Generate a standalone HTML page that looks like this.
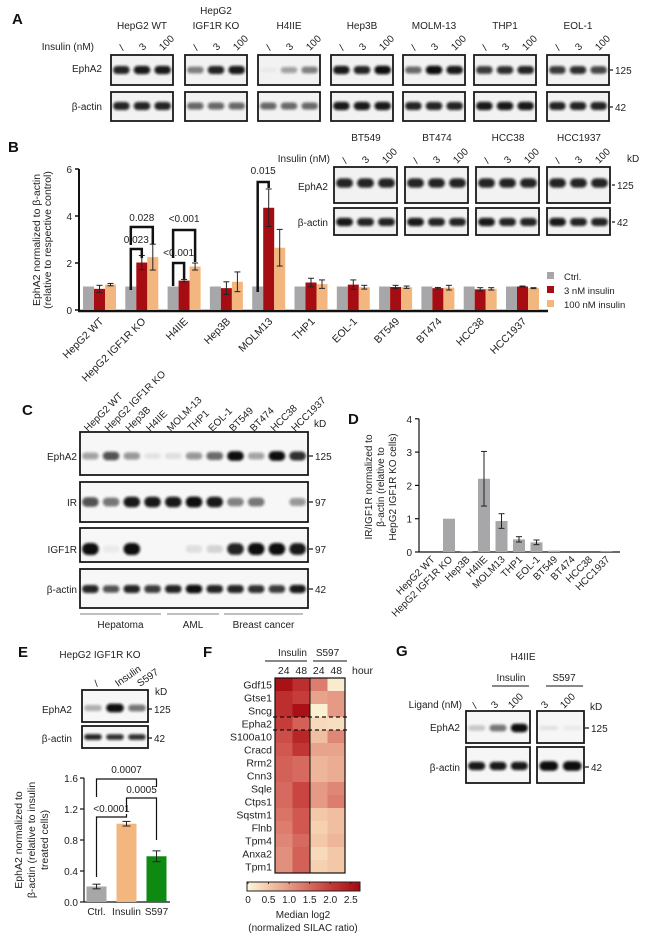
<!DOCTYPE html>
<html><head><meta charset="utf-8"><style>
html,body{margin:0;padding:0;background:#fff;}
svg{display:block;font-family:"Liberation Sans",Arial,sans-serif;}
</style></head><body>
<svg id="fig" width="650" height="945" viewBox="0 0 650 945" xmlns="http://www.w3.org/2000/svg">
<defs><filter id="blur" x="-20%" y="-100%" width="140%" height="300%"><feGaussianBlur stdDeviation="1.2"/></filter></defs>
</svg>
<script>
// ---------- Panel B data ----------
const bCats=["HepG2 WT","HepG2 IGF1R KO","H4IIE","Hep3B","MOLM13","THP1","EOL-1","BT549","BT474","HCC38","HCC1937"];
const bCtrl=[1,1,1,1,1,1,1,1,1,1,1];
const b3=[0.9,2.02,1.25,0.93,4.35,1.17,1.08,0.98,0.93,0.88,1.0];
const b3Err=[0.15,0.3,0.05,0.27,0.8,0.18,0.2,0.07,0.03,0.07,0.02];
const b100=[1.08,2.25,1.85,1.2,2.65,1.1,0.97,0.97,0.95,0.9,0.93];
const b100Err=[0.05,0.55,0.15,0.42,0.78,0.18,0.08,0.05,0.1,0.05,0.02];
const bTicks=[0,2,4,6];
// ---------- Panel D data ----------
const dCats=["HepG2 WT","HepG2 IGF1R KO","Hep3B","H4IIE","MOLM13","THP1","EOL-1","BT549","BT474","HCC38","HCC1937"];
const dVals=[0,1,0.03,2.2,0.93,0.38,0.29,0.04,0,0,0.01];
const dErr=[0,0,0.01,0.82,0.22,0.08,0.07,0.01,0,0,0];
const dTicks=[0,1,2,3,4];
// ---------- Panel E data ----------
const eCats=["Ctrl.","Insulin","S597"];
const eVals=[0.2,1.01,0.59];
const eErr=[0.03,0.03,0.07];
const eTicks=["0.0","0.4","0.8","1.2","1.6"];
// ---------- Panel F data ----------
const fGenes=["Gdf15","Gtse1","Sncg","Epha2","S100a10","Cracd","Rrm2","Cnn3","Sqle","Ctps1","Sqstm1","Flnb","Tpm4","Anxa2","Tpm1"];
const fIns24=[2.6,2.2,2.2,2.0,1.8,1.7,1.6,1.6,1.5,1.5,1.4,1.3,1.2,1.1,1.1];
const fIns48=[2.2,2.0,2.6,1.6,2.3,2.1,1.5,1.5,1.9,1.9,1.7,1.7,1.5,1.6,1.6];
const fS24=[1.3,0.9,0.05,0.3,0.6,0.9,0.7,0.7,1.0,1.0,0.5,0.4,0.5,0.3,0.4];
const fS48=[0.1,1.0,1.0,0.25,1.2,0.9,0.8,0.8,1.2,1.3,0.6,0.6,0.7,0.5,0.5];
const fScaleTicks=["0","0.5","1.0","1.5","2.0","2.5"];

const NS="http://www.w3.org/2000/svg";
const svg=document.getElementById('fig');
function mk(tag,attrs,parent){const e=document.createElementNS(NS,tag);for(const k in attrs)e.setAttribute(k,attrs[k]);(parent||svg).appendChild(e);return e;}
function T(x,y,s,size,anchor,extra){const e=mk('text',Object.assign({x:x,y:y,'font-size':size||10,'text-anchor':anchor||'start',fill:'#222'},extra||{}));e.textContent=s;return e;}
function rotT(x,y,s,size,ang,anchor){const e=T(x,y,s,size,anchor||'end',{transform:`rotate(${ang} ${x} ${y})`});return e;}
function line(x1,y1,x2,y2,w,c){return mk('line',{x1,y1,x2,y2,stroke:c||'#111','stroke-width':w||1});}

// panel letters
[["A",12,24],["B",8,152],["C",22,415],["D",348,424],["E",18,657],["F",203,657],["G",396,656]].forEach(p=>{
 const t=T(p[1],p[2],p[0],15,'start',{'font-weight':'bold',fill:'#111'});
 
 
});

// ---------- blot helper ----------
function blot(x,y,w,h,ints,bandY,bandH,name,bg){
 const g=mk('g',{});
 
 
 mk('rect',{x:x,y:y,width:w,height:h,fill:bg||'#f2f2f2',stroke:'#1a1a1a','stroke-width':1.8},g);
 const n=ints.length, lw=w/n;
 ints.forEach((v,i)=>{ if(v<=0.01)return;
  const bw=lw*0.8, bh=bandH*(0.7+0.5*v);
  mk('rect',{x:x+lw*i+(lw-bw)/2,y:y+bandY-bh/2,width:bw,height:bh,rx:bh/2,fill:'#0d0d0d',opacity:Math.min(1,v),filter:'url(#blur)'},g);
 });
 return g;
}

// ---------- Panel A ----------
const aTitles=[["HepG2 WT"],["HepG2","IGF1R KO"],["H4IIE"],["Hep3B"],["MOLM-13"],["THP1"],["EOL-1"]];
const aStarts=[111,185,258,331,403,474,547];
const aEph=[[0.9,0.95,0.95],[0.5,0.9,0.95],[0.03,0.35,0.5],[0.95,0.9,1],[0.6,1,0.95],[0.8,0.85,0.9],[0.8,0.85,0.75]];
const aAct=[[0.9,0.9,0.9],[0.6,0.6,0.6],[0.6,0.6,0.6],[0.95,0.95,0.95],[0.9,0.9,0.9],[0.95,0.95,0.95],[0.9,0.9,0.9]];
T(94,50,"Insulin (nM)",10,'end');
T(102,72,"EphA2",10,'end');
T(102,110,"β-actin",10,'end');
aStarts.forEach((x,i)=>{
 const t=aTitles[i];
 if(t.length==2){T(x+31,14,t[0],10,'middle');T(x+31,29,t[1],10,'middle');} else T(x+31,29,t[0],10,'middle');
 ["/","3","100"].forEach((s,j)=>rotT(x+12+j*20,51,s,10,-45,'start'));
 blot(x,55,62,30,aEph[i],15,7,'blot-a-epha2-'+i);
 blot(x,92,62,29,aAct[i],14,7,'blot-a-actin-'+i);
});
line(610,70,613,70,1.2);T(615,74,"125",10);
line(610,107,613,107,1.2);T(615,111,"42",10);

// ---------- Panel B inset blots ----------
const biTitles=["BT549","BT474","HCC38","HCC1937"];
const biStarts=[334,405,476,547];
T(330,162,"Insulin (nM)",10,'end');
T(328,190,"EphA2",10,'end');
T(328,226,"β-actin",10,'end');
biStarts.forEach((x,i)=>{
 T(x+32,141,biTitles[i],10,'middle');
 ["/","3","100"].forEach((s,j)=>rotT(x+12+j*20,164,s,10,-45,'start'));
 blot(x,167,63,36,[0.9,0.9,0.9],16,8,'blot-b-epha2-'+i);
 blot(x,208,63,27,[0.95,0.9,0.9],14,7,'blot-b-actin-'+i);
});
T(627,162,"kD",10);
line(612,185,615,185,1.2);T(617,189,"125",10);
line(612,222,615,222,1.2);T(617,226,"42",10);

// ---------- Panel B chart ----------
const yB=v=>310-v*23.5, xB=i=>83+42.3*i, BW=11;
line(79,yB(6),79,311.5,2);
line(78,311,548,311,2.5);
bTicks.forEach(v=>{line(75,yB(v),79,yB(v),1.5);T(72,yB(v)+4,String(v),10,'end');});
const byl=mk('text',{x:0,y:0,'font-size':10.5,'text-anchor':'middle',fill:'#222',transform:'translate(40,240) rotate(-90)'});


byl.innerHTML='<tspan x="0" dy="0">EphA2 normalized to β-actin</tspan><tspan x="0" dy="11">(relative to respective control)</tspan>';
function errbar(cx,top,bot,w){line(cx,top,cx,bot,1,'#222');line(cx-w,top,cx+w,top,1,'#222');line(cx-w,bot,cx+w,bot,1,'#222');}
bCats.forEach((c,i)=>{
 const x0=xB(i);
 const r1=mk('rect',{x:x0,y:yB(bCtrl[i]),width:BW,height:yB(0)-yB(bCtrl[i]),fill:'#a7a7a9'});
 
 
 const r2=mk('rect',{x:x0+BW,y:yB(b3[i]),width:BW,height:yB(0)-yB(b3[i]),fill:'#a50d12'});
 
 
 const r3=mk('rect',{x:x0+2*BW,y:yB(b100[i]),width:BW,height:yB(0)-yB(b100[i]),fill:'#f3b67e'});
 
 
 errbar(x0+1.5*BW,yB(b3[i]+b3Err[i]),yB(b3[i]-b3Err[i]),3);
 errbar(x0+2.5*BW,yB(b100[i]+b100Err[i]),yB(b100[i]-b100Err[i]),3);
 const xl=rotT(x0+21,322,c,10.5,-45,'end');
 
 
});
function bracket(x1,x2,y,l1,l2,label,ty){
 mk('path',{d:`M${x1},${l1} V${y} H${x2} V${l2}`,fill:'none',stroke:'#111','stroke-width':2.5});
 T((x1+x2)/2,ty,label,10,'middle');
}
{const c=xB(1)+5.5; bracket(c,c+11,249,290,258,"0.023",243); bracket(c,c+22,227,245,244,"0.028",221);}
{const c=xB(2)+5.5; bracket(c,c+11,263,286,279,"<0.001",256); bracket(c,c+22,230,258,262,"<0.001",222);}
{const c=xB(4)+5.5; bracket(c,c+11,182,292,188,"0.015",174);}
[["Ctrl.","#a7a7a9"],["3 nM insulin","#a50d12"],["100 nM insulin","#f3b67e"]].forEach((l,i)=>{
 const g=mk('g',{});
 
 
 mk('rect',{x:547,y:272+14*i,width:7,height:7,fill:l[1]},g);
 const t=T(564,280+14*i,l[0],9.5);g.appendChild(t);
});

// ---------- Panel C ----------
const cLanes=["HepG2 WT","HepG2 IGF1R KO","Hep3B","H4IIE","MOLM-13","THP1","EOL-1","BT549","BT474","HCC38","HCC1937"];
const cEph=[0.35,0.7,0.4,0.08,0.1,0.4,0.6,1,0.35,1,0.85];
const cIR=[0.7,0.55,0.95,0.95,0.95,1,0.95,0.5,0.55,0,0.4];
const cIGF=[1,0.05,1,0,0,0.1,0.15,0.9,1,1,0.95];
const cAct=[0.9,0.7,0.9,0.8,0.9,1,0.9,0.9,0.85,0.8,0.95];
const cw=228/11;
cLanes.forEach((s,i)=>rotT(80+cw*i+8,432,s,10,-45,'start'));
T(314,427,"kD",10);
blot(80,432,228,43,cEph,24,8,'blot-c-epha2','#f7f7f7');
blot(80,482,228,40,cIR,20,9,'blot-c-ir','#f7f7f7');
blot(80,528,228,34,cIGF,21,10,'blot-c-igf1r','#f7f7f7');
blot(80,569,228,39,cAct,20,7,'blot-c-actin','#f7f7f7');
[["EphA2",456,"125"],["IR",502,"97"],["IGF1R",549,"97"],["β-actin",589,"42"]].forEach(r=>{
 T(77,r[1]+4,r[0],10,'end');line(309,r[1],313,r[1],1.2);T(315,r[1]+4,r[2],10);
});
[["Hepatoma",80,161],["AML",167,219],["Breast cancer",224,303]].forEach(g=>{
 line(g[1],614,g[2],614,0.8,'#555');T((g[1]+g[2])/2,628,g[0],10,'middle');
});

// ---------- Panel D ----------
const yD=v=>552-v*33.3, xD=i=>431.5+17.5*i;
line(419,yD(4),419,552.5,1.2);line(419,552,620,552,1.2);
dTicks.forEach(v=>{line(415,yD(v),419,yD(v),1.2);T(412,yD(v)+4,String(v),10,'end');});
const dyl=mk('text',{x:0,y:0,'font-size':10,'text-anchor':'middle',fill:'#222',transform:'translate(372,487) rotate(-90)'});


dyl.innerHTML='<tspan x="0" dy="0">IR/IGF1R normalized to</tspan><tspan x="0" dy="12">β-actin (relative to</tspan><tspan x="0" dy="12">HepG2 IGF1R KO cells)</tspan>';
dCats.forEach((c,i)=>{
 const r=mk('rect',{x:xD(i)-6,y:yD(dVals[i]),width:12,height:yD(0)-yD(dVals[i]),fill:'#a7a7a9'});
 
 
 if(dErr[i]>0.015)errbar(xD(i),yD(dVals[i]+dErr[i]),yD(dVals[i]-dErr[i]),3);
 rotT(xD(i)+4,560,c,10,-45,'end');
});

// ---------- Panel E ----------
T(100,658,"HepG2 IGF1R KO",10,'middle');
[["/",97],["Insulin",118],["S597",140]].forEach(l=>rotT(l[1],687,l[0],10,-35,'start'));
T(155,695,"kD",10);
blot(82,690,66,32,[0.3,1,0.55],18,7,'blot-e-epha2','#f7f7f7');
blot(82,726,66,22,[0.9,0.85,0.85],11,5,'blot-e-actin','#f7f7f7');
T(72,713,"EphA2",10,'end');T(72,742,"β-actin",10,'end');
line(148,709,152,709,1.2);T(154,713,"125",10);
line(148,738,152,738,1.2);T(154,742,"42",10);
const yE=v=>902-v*77.5, xE=i=>96.5+30*i;
line(84,yE(1.6),84,902.5,1.2);line(84,902,170,902,1.2);
eTicks.forEach(s=>{const v=parseFloat(s);line(80,yE(v),84,yE(v),1.2);T(78,yE(v)+4,s,10,'end');});
const eyl=mk('text',{x:0,y:0,'font-size':10.5,'text-anchor':'middle',fill:'#222',transform:'translate(22,840) rotate(-90)'});


eyl.innerHTML='<tspan x="0" dy="0">EphA2 normalized to</tspan><tspan x="0" dy="13">β-actin (relative to insulin</tspan><tspan x="0" dy="13">treated cells)</tspan>';
const eCol=["#a7a7a9","#f3b67e","#0e8a12"];
eCats.forEach((c,i)=>{
 const r=mk('rect',{x:xE(i)-10,y:yE(eVals[i]),width:20,height:yE(0)-yE(eVals[i]),fill:eCol[i]});
 
 
 errbar(xE(i),yE(eVals[i]+eErr[i]),yE(eVals[i]-eErr[i]),4);
 T(xE(i),915,c,10,'middle');
});
function brk(x1,x2,y,l1,l2,label,ty){mk('path',{d:`M${x1},${l1} V${y} H${x2} V${l2}`,fill:'none',stroke:'#111','stroke-width':1.2});T((x1+x2)/2,ty,label,10,'middle');}
brk(xE(0),xE(2),779,797,787,"0.0007",773);
brk(xE(1),xE(2),798,812,840,"0.0005",793);
brk(xE(0),xE(1),817,877,814,"<0.0001",812);

// ---------- Panel F heatmap ----------
const hx=275,hy=678,cwF=17.5,rh=13;
function heat(v){
 const stops=[[0,[253,244,216]],[0.5,[243,200,168]],[1.0,[228,154,133]],[1.5,[214,106,96]],[2.0,[198,60,58]],[2.7,[165,10,16]]];
 v=Math.max(0,Math.min(2.7,v));
 for(let k=1;k<stops.length;k++){if(v<=stops[k][0]){const a=stops[k-1],b=stops[k],t=(v-a[0])/(b[0]-a[0]);
  const c=a[1].map((q,j)=>Math.round(q+(b[1][j]-q)*t));return `rgb(${c})`;}}
 return 'rgb(165,10,16)';
}
const fCols=[fIns24,fIns48,fS24,fS48];
const fColNames=["insulin-24","insulin-48","s597-24","s597-48"];
fGenes.forEach((g,r)=>{
 const lt=T(hx-3,hy+rh*r+10.5,g,10.5,'end');
 
 
 fCols.forEach((arr,c)=>{
  const cell=mk('rect',{x:hx+cwF*c,y:hy+rh*r,width:cwF+0.3,height:rh+0.3,fill:heat(arr[r])});
  
  
 });
});
mk('rect',{x:hx,y:hy,width:cwF*4,height:rh*15,fill:'none',stroke:'#111','stroke-width':1.2});
line(hx+cwF*2,hy,hx+cwF*2,hy+rh*15,1);
mk('line',{x1:hx-2,y1:hy+rh*3,x2:hx+cwF*4+2,y2:hy+rh*3,stroke:'#111','stroke-width':1.2,'stroke-dasharray':'4,3'});
mk('line',{x1:hx-2,y1:hy+rh*4,x2:hx+cwF*4+2,y2:hy+rh*4,stroke:'#111','stroke-width':1.2,'stroke-dasharray':'4,3'});
T(hx+cwF,656,"Insulin",10,'middle');T(hx+cwF*3,656,"S597",10,'middle');
line(hx-10,661,hx+cwF*2-3,661,1);line(hx+cwF*2+3,661,hx+cwF*4+2,661,1);
["24","48","24","48"].forEach((s,i)=>T(hx+cwF*i+cwF/2,674,s,10.5,'middle'));
T(352,674,"hour",10.5);
const cb=mk('g',{});


const cbx=247,cbw=113,cby=882;
for(let k=0;k<60;k++){mk('rect',{x:cbx+cbw*k/60,y:cby,width:cbw/60+0.4,height:9,fill:heat(2.7*k/59)},cb);}
mk('rect',{x:cbx,y:cby,width:cbw,height:9,fill:'none',stroke:'#222','stroke-width':1},cb);
fScaleTicks.forEach(s=>{const v=parseFloat(s);const x=cbx+1+v/2.7*(cbw-2);line(x,cby,x,cby+2,0.8);T(x,903,s,10,'middle');});
T(303,918,"Median log2",10,'middle');
T(303,931,"(normalized SILAC ratio)",10,'middle');

// ---------- Panel G ----------
T(523,660,"H4IIE",10,'middle');
T(511,681,"Insulin",10,'middle');line(492,686,529,686,1);
T(564,681,"S597",10,'middle');line(546,686,583,686,1);
T(462,708,"Ligand (nM)",10,'end');
[["/",476],["3",495],["100",512],["3",545],["100",564]].forEach(l=>rotT(l[1],709,l[0],10,-45,'start'));
T(590,710,"kD",10);
blot(466,711,64,32,[0.2,0.55,1],17,7,'blot-g-epha2-insulin','#f6f6f6');
blot(537,711,47,32,[0.08,0.05],17,6,'blot-g-epha2-s597','#f6f6f6');
blot(466,747,64,36,[0.95,0.95,0.95],19,7,'blot-g-actin-insulin','#f6f6f6');
blot(537,747,47,36,[1,1],19,8,'blot-g-actin-s597','#f6f6f6');
T(460,731,"EphA2",10,'end');T(460,771,"β-actin",10,'end');
line(585,728,589,728,1.2);T(591,732,"125",10);
line(585,767,589,767,1.2);T(591,771,"42",10);
</script>
</body></html>
